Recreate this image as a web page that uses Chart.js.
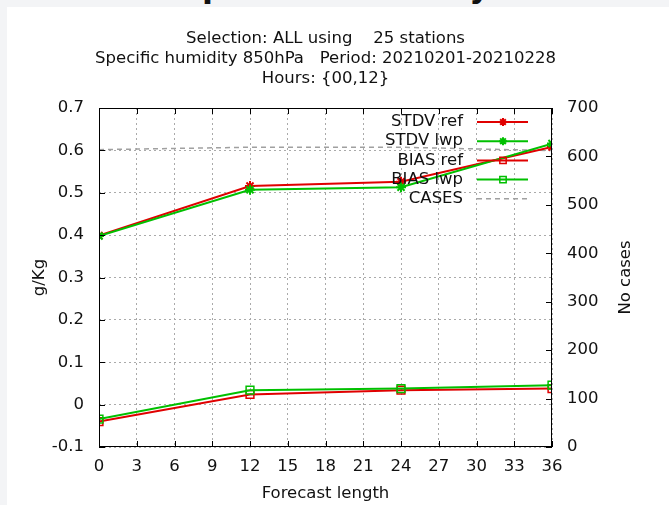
<!DOCTYPE html>
<html>
<head>
<meta charset="utf-8">
<script src="https://cdn.jsdelivr.net/npm/chart.js@4.4.1/dist/chart.umd.min.js"></script>
<style>
  html, body { margin: 0; padding: 0; background: #f3f4f6; overflow: hidden; }
  .page-title {
    position: absolute; left: 0; top: -30px; width: 669px; margin: 0;
    text-align: center; font: bold 32px/32px "DejaVu Sans", sans-serif; color: #111;
  }
  .card { position: absolute; left: 7px; top: 7px; width: 662px; height: 498px; background: #fff; }
  #chart { position: absolute; left: 0; top: 0; }
</style>
</head>
<body>
<h1 class="page-title">Specific humidity</h1>
<div class="card"></div>
<canvas id="chart" width="669" height="505"></canvas>
<script>
// values
const hours = [0, 12, 24, 36];
const stdvRef = [0.399, 0.516, 0.526, 0.608];
const stdvLwp = [0.398, 0.507, 0.513, 0.616];
const biasRef = [-0.040, 0.024, 0.034, 0.038];
const biasLwp = [-0.034, 0.034, 0.038, 0.046];
const cases = [614, 619, 619, 612];

const titleLines = [
  'Selection: ALL using    25 stations',
  'Specific humidity 850hPa   Period: 20210201-20210228',
  'Hours: {00,12}'
];

const RED = '#e00000';
const GREEN = '#00c000';
const GREY = '#a0a0a0';
const FONT = { family: 'DejaVu Sans', size: 16.5 };
const TEXT = '#111';

const toPoints = vals => hours.map((h, i) => ({ x: h, y: vals[i] }));

// gnuplot-like frame, inward ticks, key and titles
const gnuplotLook = {
  id: 'gnuplotLook',
  afterDatasetsDraw(chart) {
    const { ctx, chartArea: a, scales } = chart;
    ctx.save();

    // border
    ctx.strokeStyle = '#000';
    ctx.lineWidth = 1;
    ctx.setLineDash([]);
    ctx.strokeRect(a.left + 0.5, a.top + 0.5, a.width - 1, a.height - 1);

    // inward tick marks
    const tl = 6;
    ctx.beginPath();
    scales.x.ticks.forEach(t => {
      const px = Math.round(scales.x.getPixelForValue(t.value)) + 0.5;
      ctx.moveTo(px, a.bottom); ctx.lineTo(px, a.bottom - tl);
      ctx.moveTo(px, a.top); ctx.lineTo(px, a.top + tl);
    });
    scales.y.ticks.forEach(t => {
      const py = Math.round(scales.y.getPixelForValue(t.value)) + 0.5;
      ctx.moveTo(a.left, py); ctx.lineTo(a.left + tl, py);
    });
    scales.y1.ticks.forEach(t => {
      const py = Math.round(scales.y1.getPixelForValue(t.value)) + 0.5;
      ctx.moveTo(a.right, py); ctx.lineTo(a.right - tl, py);
    });
    ctx.stroke();

    // key
    ctx.font = FONT.size + 'px "DejaVu Sans"';
    ctx.textAlign = 'right';
    ctx.textBaseline = 'middle';
    chart.data.datasets.forEach((ds, i) => {
      const y = a.top + 14 + i * 19.2;
      ctx.fillStyle = TEXT;
      ctx.fillText(ds.label, a.right - 89, y);
      ctx.strokeStyle = ds.borderColor;
      ctx.lineWidth = ds.borderWidth;
      ctx.setLineDash(ds.borderDash || []);
      ctx.beginPath();
      ctx.moveTo(a.right - 75, y); ctx.lineTo(a.right - 24, y);
      ctx.stroke();
      ctx.setLineDash([]);
      if (ds.pointRadius > 0) {
        ctx.lineWidth = ds.pointBorderWidth;
        ctx.strokeStyle = ds.pointBorderColor;
        ctx.fillStyle = 'rgba(0,0,0,0)';
        Chart.helpers.drawPoint(ctx, {
          pointStyle: ds.pointStyle, radius: ds.pointRadius - 1,
          borderWidth: ds.pointBorderWidth, rotation: 0
        }, a.right - 49, y);
      }
    });

    // titles
    ctx.fillStyle = TEXT;
    ctx.textAlign = 'center';
    ctx.textBaseline = 'alphabetic';
    const cx = (a.left + a.right) / 2;
    titleLines.forEach((line, i) => ctx.fillText(line, cx, 43 + i * 19.8));

    // right axis title, reading upwards
    ctx.translate(626, (a.top + a.bottom) / 2);
    ctx.rotate(-Math.PI / 2);
    ctx.textBaseline = 'middle';
    ctx.fillText('No cases', 0, 0);
    ctx.restore();
  }
};

new Chart(document.getElementById('chart'), {
  type: 'line',
  data: {
    datasets: [
      {
        label: 'STDV ref', data: toPoints(stdvRef), yAxisID: 'y', order: 4,
        borderColor: RED, backgroundColor: RED, borderWidth: 2,
        pointStyle: 'star', pointRadius: 5, pointBorderWidth: 2, pointBorderColor: RED
      },
      {
        label: 'STDV lwp', data: toPoints(stdvLwp), yAxisID: 'y', order: 3,
        borderColor: GREEN, backgroundColor: GREEN, borderWidth: 2,
        pointStyle: 'star', pointRadius: 5, pointBorderWidth: 2, pointBorderColor: GREEN
      },
      {
        label: 'BIAS ref', data: toPoints(biasRef), yAxisID: 'y', order: 2,
        borderColor: RED, backgroundColor: 'rgba(0,0,0,0)', borderWidth: 2,
        pointStyle: 'rect', pointRadius: 5.5, pointBorderWidth: 1.5, pointBorderColor: RED,
        pointBackgroundColor: 'rgba(0,0,0,0)'
      },
      {
        label: 'BIAS lwp', data: toPoints(biasLwp), yAxisID: 'y', order: 1,
        borderColor: GREEN, backgroundColor: 'rgba(0,0,0,0)', borderWidth: 2,
        pointStyle: 'rect', pointRadius: 5.5, pointBorderWidth: 1.5, pointBorderColor: GREEN,
        pointBackgroundColor: 'rgba(0,0,0,0)'
      },
      {
        label: 'CASES', data: toPoints(cases), yAxisID: 'y1', order: 5,
        borderColor: GREY, borderWidth: 1.5, borderDash: [5, 4], pointRadius: 0
      }
    ]
  },
  options: {
    responsive: false,
    animation: false,
    devicePixelRatio: 1,
    layout: { padding: { top: 108, left: 0, right: 0, bottom: 0 } },
    plugins: {
      legend: { display: false },
      tooltip: { enabled: false },
      title: { display: false }
    },
    elements: { line: { tension: 0, fill: false } },
    scales: {
      x: {
        type: 'linear', min: 0, max: 36,
        ticks: { stepSize: 3, padding: 10, color: TEXT, font: FONT, maxRotation: 0 },
        grid: { color: '#aaaaaa', lineWidth: 1, drawTicks: false },
        border: { display: false, dash: [2, 3] },
        title: { display: true, text: 'Forecast length', color: TEXT, font: FONT, padding: { top: 0, bottom: 1 } },
        afterFit(s) { s.height = 58; }
      },
      y: {
        position: 'left', min: -0.1, max: 0.7,
        ticks: {
          stepSize: 0.1, padding: 15, color: TEXT, font: FONT,
          callback: v => String(Math.round(v * 10) / 10)
        },
        grid: { color: '#aaaaaa', lineWidth: 1, drawTicks: false },
        border: { display: false, dash: [2, 3] },
        title: { display: true, text: 'g/Kg', color: TEXT, font: FONT, padding: { top: 30, bottom: 0 } },
        afterFit(s) { s.width = 99; }
      },
      y1: {
        position: 'right', min: 0, max: 700,
        ticks: { stepSize: 100, padding: 15, color: TEXT, font: FONT },
        grid: { display: false, drawTicks: false },
        border: { display: false },
        afterFit(s) { s.width = 117; }
      }
    }
  },
  plugins: [gnuplotLook]
});
</script>
</body>
</html>
